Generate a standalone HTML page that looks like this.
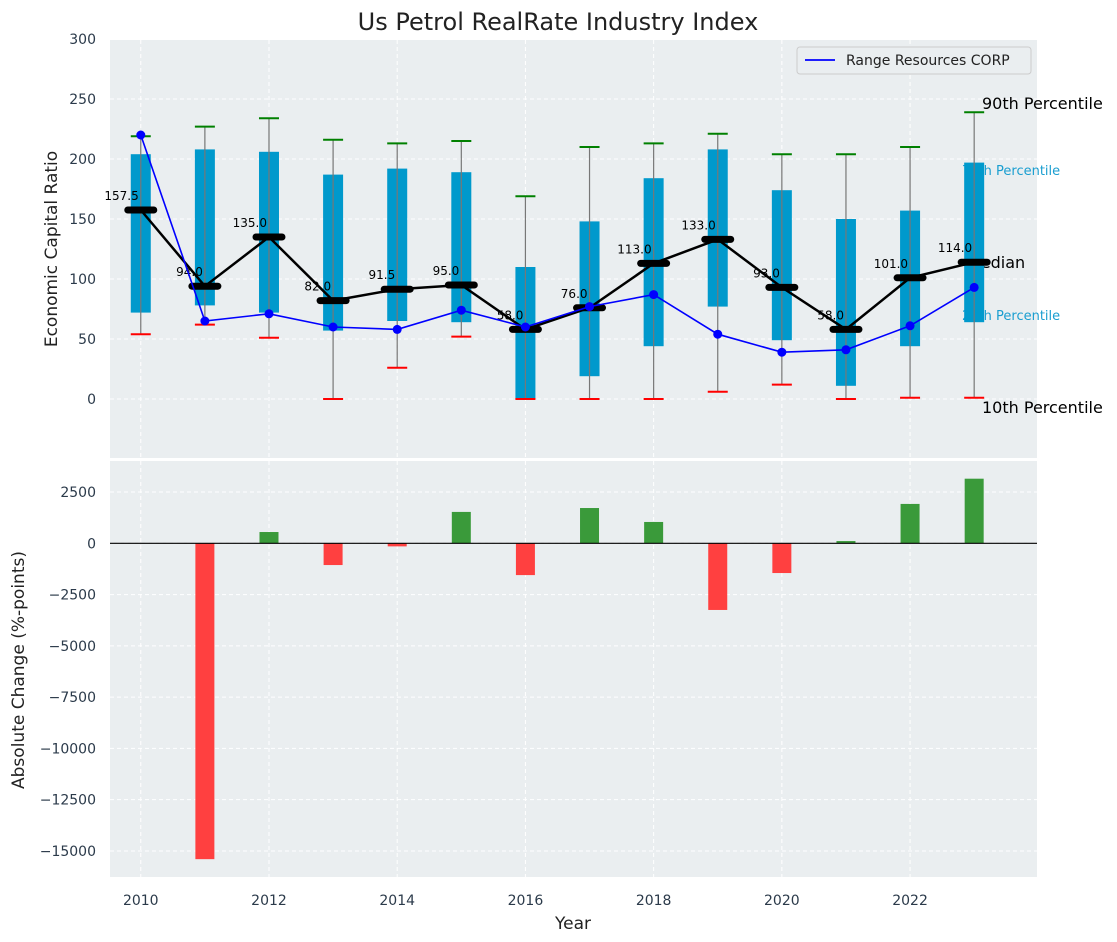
<!DOCTYPE html>
<html><head><meta charset="utf-8"><style>
body{margin:0;background:#fff;}
svg{display:block;font-family:"DejaVu Sans","Liberation Sans",sans-serif;}
</style></head><body>
<svg id="chart" width="1117" height="942" viewBox="0 0 1117 942"></svg>
<script>
const years=[2010,2011,2012,2013,2014,2015,2016,2017,2018,2019,2020,2021,2022,2023];
const p90=[219,227,234,216,213,215,169,210,213,221,204,204,210,239];
const p75=[204,208,206,187,192,189,110,148,184,208,174,150,157,197];
const p25=[72,78,72,57,65,64,0,19,44,77,49,11,44,64];
const p10=[54,62,51,0,26,52,0,0,0,6,12,0,1,1];
const medians=[157.5,94,135,82,91.5,95,58,76,113,133,93,58,101,114];
const company=[220,65,71,60,58,74,60,77,87,54,39,41,61,93];
const changes=[0,-15400,550,-1060,-150,1530,-1550,1720,1040,-3250,-1450,110,1920,3150];
const topTicks=[0,50,100,150,200,250,300];
const botTicks=[-15000,-12500,-10000,-7500,-5000,-2500,0,2500];
const xTicks=[2010,2012,2014,2016,2018,2020,2022];

const NS="http://www.w3.org/2000/svg";
const svg=document.getElementById('chart');
function el(tag,attrs,parent){const e=document.createElementNS(NS,tag);for(const k in attrs)e.setAttribute(k,attrs[k]);(parent||svg).appendChild(e);return e;}
const X0=110,X1=1037;
const x=v=>X0+(v-2009.52)/(2023.98-2009.52)*(X1-X0);
const yT=v=>399-v*1.2;
const yB=v=>543.3-v*0.02051;
const TF=14, TC='#2b3a4a';

let p=el('rect',{x:X0,y:40,width:X1-X0,height:418,fill:'#eaeef0'});

p=el('rect',{x:X0,y:461,width:X1-X0,height:416,fill:'#eaeef0'});


xTicks.forEach(t=>{
  let g=el('line',{x1:x(t),x2:x(t),y1:40,y2:458,stroke:'#fff','stroke-dasharray':'4,3','stroke-width':1});
  
  g=el('line',{x1:x(t),x2:x(t),y1:461,y2:877,stroke:'#fff','stroke-dasharray':'4,3','stroke-width':1});
  
  const l=el('text',{x:x(t),y:905,'text-anchor':'middle','font-size':TF,fill:TC});l.textContent=t;
  
});
topTicks.forEach(t=>{
  const g=el('line',{x1:X0,x2:X1,y1:yT(t),y2:yT(t),stroke:'#fff','stroke-dasharray':'4,3'});
  
  const l=el('text',{x:96,y:yT(t)+5,'text-anchor':'end','font-size':TF,fill:TC});l.textContent=t;
  
});
botTicks.forEach(t=>{
  const g=el('line',{x1:X0,x2:X1,y1:yB(t),y2:yB(t),stroke:'#fff','stroke-dasharray':'4,3'});
  
  const l=el('text',{x:96,y:yB(t)+5,'text-anchor':'end','font-size':TF,fill:TC});l.textContent=String(t).replace('-','\u2212');
  
});

[[ 'annot-90th','90th Percentile',982,109,16,'#000'],['annot-75th','75th Percentile',962,175,13,'#1a9ed0'],
 ['annot-median','Median',967,268,16,'#000'],['annot-25th','25th Percentile',962,320,13,'#1a9ed0'],
 ['annot-10th','10th Percentile',982,413,16,'#000']].forEach(a=>{
  const t=el('text',{x:a[2],y:a[3],'font-size':a[4],fill:a[5]});t.textContent=a[1];
  
});

years.forEach((yr,i)=>{
  const cx=x(yr);
  let b=el('rect',{x:cx-10,y:yT(p75[i]),width:20,height:yT(p25[i])-yT(p75[i]),fill:'#0099cc'});
  
  let w=el('line',{x1:cx,x2:cx,y1:yT(p90[i]),y2:yT(p10[i]),stroke:'#777','stroke-width':1.2});
  
  w=el('line',{x1:cx-10,x2:cx+10,y1:yT(p90[i]),y2:yT(p90[i]),stroke:'#008000','stroke-width':2});
  
  w=el('line',{x1:cx-10,x2:cx+10,y1:yT(p10[i]),y2:yT(p10[i]),stroke:'#ff0000','stroke-width':2});
  
});

let ml=el('polyline',{points:years.map((yr,i)=>x(yr)+','+yT(medians[i])).join(' '),fill:'none',stroke:'#000','stroke-width':2.5});

years.forEach((yr,i)=>{
  const cx=x(yr),cy=yT(medians[i]);
  const m=el('line',{x1:cx-13,x2:cx+13,y1:cy,y2:cy,stroke:'#000','stroke-width':7,'stroke-linecap':'round'});
  
  const t=el('text',{x:cx-2,y:cy-10,'text-anchor':'end','font-size':12,fill:'#000'});t.textContent=medians[i].toFixed(1);
  
});

let cl=el('polyline',{points:years.map((yr,i)=>x(yr)+','+yT(company[i])).join(' '),fill:'none',stroke:'#0000ff','stroke-width':1.6});

years.forEach((yr,i)=>{
  const c=el('circle',{cx:x(yr),cy:yT(company[i]),r:4.5,fill:'#0000ff'});
  
});

let lg=el('g',{});
el('rect',{x:797,y:47,width:234,height:27,rx:3,fill:'#eaeef0',stroke:'#ccc'},lg);
el('line',{x1:805,x2:835,y1:60,y2:60,stroke:'#0000ff','stroke-width':1.8},lg);
let lt=el('text',{x:846,y:65,'font-size':14,fill:'#222'},lg);lt.textContent='Range Resources CORP';


years.forEach((yr,i)=>{
  const v=changes[i];if(v===0)return;
  const y0=yB(Math.max(v,0)),y1=yB(Math.min(v,0));
  const b=el('rect',{x:x(yr)-9.5,y:y0,width:19,height:y1-y0,fill:v>=0?'#3a9a3a':'#ff4040'});
  
});
let z=el('line',{x1:X0,x2:X1,y1:yB(0),y2:yB(0),stroke:'#000','stroke-width':1.2});


let t=el('text',{x:558,y:30,'text-anchor':'middle','font-size':24,fill:'#222'});t.textContent='Us Petrol RealRate Industry Index';

t=el('text',{x:573,y:929,'text-anchor':'middle','font-size':17,fill:'#222'});t.textContent='Year';

t=el('text',{x:0,y:0,'text-anchor':'middle','font-size':17,fill:'#222',transform:'translate(57,249) rotate(-90)'});t.textContent='Economic Capital Ratio';

t=el('text',{x:0,y:0,'text-anchor':'middle','font-size':17,fill:'#222',transform:'translate(24,670) rotate(-90)'});t.textContent='Absolute Change (%-points)';

</script>
</body></html>
